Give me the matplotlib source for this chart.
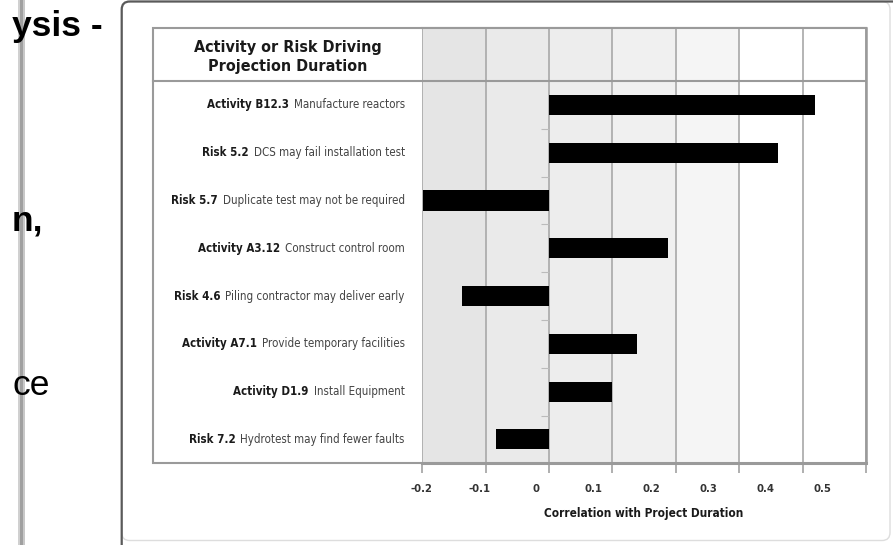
# tornado style correlation chart, copied from a slide screenshot
import matplotlib.pyplot as plt
from matplotlib.patches import Rectangle, FancyBboxPatch

ids = ['Activity B12.3', 'Risk 5.2', 'Risk 5.7', 'Activity A3.12',
       'Risk 4.6', 'Activity A7.1', 'Activity D1.9', 'Risk 7.2']
descs = ['Manufacture reactors', 'DCS may fail installation test',
         'Duplicate test may not be required', 'Construct control room',
         'Piling contractor may deliver early', 'Provide temporary facilities',
         'Install Equipment', 'Hydrotest may find fewer faults']
corr = [0.419, 0.361, -0.199, 0.187, -0.138, 0.139, 0.099, -0.083]

grid_vals = [-0.2, -0.1, 0, 0.1, 0.2, 0.3, 0.4, 0.5]
tick_text = ['-0.2', '-0.1', '0', '0.1', '0.2', '0.3', '0.4', '0.5']
band_colors = ['#e5e5e5', '#eaeaea', '#ededed', '#f0f0f0', '#f5f5f5', '#ffffff', '#ffffff']

W, H = 893, 545
narrow = ['DejaVu Sans']
arial = ['Liberation Sans', 'DejaVu Sans']

fig = plt.figure(figsize=(W / 100, H / 100), dpi=100)

# background layer in pixel units (slide + picture frame)
bg = fig.add_axes([0, 0, 1, 1])
bg.set_xlim(0, W)
bg.set_ylim(H, 0)
bg.axis('off')

# bits of the slide behind the picture
bg.add_patch(Rectangle((18, 0), 2, H, color='#d0d0d0', lw=0))
bg.add_patch(Rectangle((20, 0), 3, H, color='#a0a0a0', lw=0))
bg.add_patch(Rectangle((23, 0), 2, H, color='#c8c8c8', lw=0))
bg.text(12, 36, 'ysis -', fontsize=25.5, fontweight='bold', family=arial, va='baseline')
bg.text(12, 230, 'n,', fontsize=25.5, fontweight='bold', family=arial, va='baseline')
bg.text(12, 395, 'ce', fontsize=25.5, family=arial, va='baseline')

# picture frame
bg.add_patch(FancyBboxPatch((121.7, 1.5), 890 - 121.7, 539, boxstyle='round,pad=0,rounding_size=8',
                            facecolor='white', edgecolor='#dddddd', lw=1))
bg.add_patch(FancyBboxPatch((121.7, 1.5), 1000, 700, boxstyle='round,pad=0,rounding_size=8',
                            facecolor='none', edgecolor='#5a5a5a', lw=1.6))

# table frame around the label column
bg.add_patch(Rectangle((153.3, 28), 866 - 153.3, 463.3 - 28, fill=False,
                       edgecolor='#9a9a9a', lw=1.5))
bg.text(287.5, 57, 'Activity or Risk Driving\nProjection Duration', ha='center', va='center',
        fontsize=11.5, fontweight='bold', family=narrow, fontstretch='condensed',
        color='#1a1a1a', linespacing=1.4)

# chart
ax = fig.add_axes([421.7 / W, 1 - 463.3 / H, (866 - 421.7) / W, (463.3 - 28) / H])
for i in range(len(band_colors)):
    ax.axvspan(grid_vals[i], grid_vals[i + 1], color=band_colors[i], lw=0, zorder=0)

y = list(range(len(corr)))
ax.barh(y, corr, height=0.42, color='black', zorder=3)

ax.set_xlim(-0.2, 0.5)
ax.set_ylim(7.5, -1.61)
ax.set_axisbelow(True)
ax.grid(axis='x', which='major', color='#a8a8a8', lw=1.2)

# header line goes across the label column too
ax.axhline(-0.5, xmin=-0.604, xmax=1, color='#9a9a9a', lw=1.5, clip_on=False)

ax.spines['left'].set_position(('data', 0))
ax.spines['left'].set_color('none')
ax.spines['top'].set_color('#9a9a9a')
ax.spines['top'].set_linewidth(1.5)
ax.spines['right'].set_color('#9a9a9a')
ax.spines['right'].set_linewidth(1.8)
ax.spines['bottom'].set_color('#9a9a9a')
ax.spines['bottom'].set_linewidth(2.2)

ax.set_yticks([i + 0.5 for i in y[:-1]])
ax.set_yticklabels([])
ax.tick_params(axis='y', length=6, width=0.8, color='#bbbbbb', direction='out')

# ticks at the gridlines, labels sit a bit off as in the original
ax.set_xticks(grid_vals)
ax.set_xticklabels([])
ax.tick_params(axis='x', which='major', length=7.2, width=1.1, color='#9a9a9a', direction='out')
ax.set_xticks([0.904 * v - 0.02 for v in grid_vals], labels=tick_text, minor=True)
ax.tick_params(axis='x', which='minor', length=0, pad=15)
for lab in ax.get_xticklabels(minor=True):
    lab.set_fontsize(8)
    lab.set_fontweight('bold')
    lab.set_family(narrow)
    lab.set_fontstretch('condensed')
    lab.set_color('#333333')

ax.set_xlabel('Correlation with Project Duration', fontsize=8.5, fontweight='bold',
              family=narrow, fontstretch='condensed', color='#1a1a1a', labelpad=9)

# row labels: bold id then plain description, right aligned
for i in y:
    t = ax.annotate(descs[i], xy=(0, i), xycoords=('axes fraction', 'data'), xytext=(-17, 0),
                    textcoords='offset pixels', ha='right', va='center', fontsize=8.3,
                    family=narrow, fontstretch='condensed', color='#444444',
                    annotation_clip=False)
    ax.annotate(ids[i], xy=(0, 0.5), xycoords=t, xytext=(-5, 0), textcoords='offset pixels',
                ha='right', va='center', fontsize=8.3, fontweight='bold', family=narrow,
                fontstretch='condensed', color='#1a1a1a', annotation_clip=False)

fig.savefig('out.png', dpi=100)
